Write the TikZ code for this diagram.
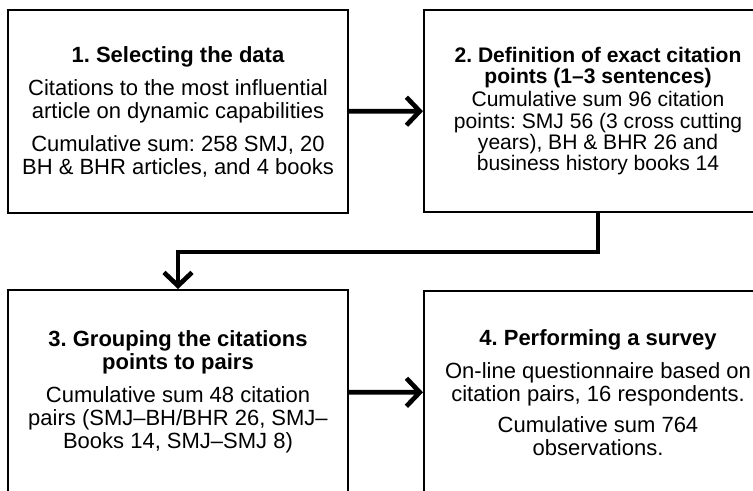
\documentclass[tikz,border=0pt]{standalone}
\usepackage{fontspec}
\setmainfont{Liberation Sans}
\usetikzlibrary{arrows.meta}
\frenchspacing

\begin{document}
\begin{tikzpicture}[x=0.75pt,y=0.75pt,yscale=-1,xscale=1,
  stepbox/.style={draw, line width=1.5pt, anchor=north west, align=center,
    inner sep=0pt, font=\fontsize{16.5}{17.25}\selectfont},
  flow/.style={line width=3.5pt, -{Straight Barb[length=10pt,width=21pt]}}]
\useasboundingbox (0,0) rectangle (753,490);

%Shape: Rectangle [step 1]
\node[stepbox, minimum width=255pt, minimum height=152.25pt] (select) at (7,9)
  {\textbf{1. Selecting the data}\\[7.5pt]
   Citations to the most influential\\
   article on dynamic capabilities\\[7.5pt]
   Cumulative sum: 258 SMJ, 20\\
   BH \& BHR articles, and 4 books};
%Shape: Rectangle [step 2]
\node[stepbox, minimum width=261pt, minimum height=151.5pt,
  font=\fontsize{15.8}{16}\selectfont] (define) at (423,9)
  {\textbf{2. Definition of exact citation}\\
   \textbf{points (1–3 sentences)}\\[1.5pt]
   Cumulative sum 96 citation\\
   points: SMJ 56 (3 cross cutting\\
   years), BH \& BHR 26 and\\
   business history books 14};
%Shape: Rectangle [step 3]
\node[stepbox, minimum width=255pt, minimum height=153pt] (group) at (7,289)
  {\textbf{3. Grouping the citations}\\
   \textbf{points to pairs}\\[7.5pt]
   Cumulative sum 48 citation\\
   pairs (SMJ–BH/BHR 26, SMJ–\\
   Books 14, SMJ–SMJ 8)};
%Shape: Rectangle [step 4]
\node[stepbox, minimum width=261pt, minimum height=152.25pt] (survey) at (423,290)
  {\textbf{4. Performing a survey}\\[7pt]
   On-line questionnaire based on\\
   citation pairs, 16 respondents.\\[6pt]
   Cumulative sum 764\\
   observations.};

%Straight Lines
\draw[flow] (select) -- (define);
\draw[flow] (define.south) -- ++(0,39) -| (group.north);
\draw[flow] (group) -- (survey);

\end{tikzpicture}
\end{document}
